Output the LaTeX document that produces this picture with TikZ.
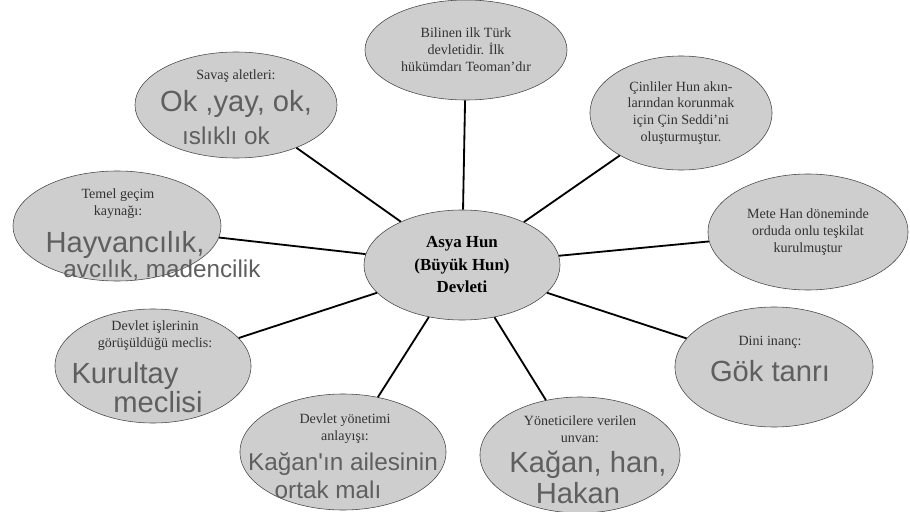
\documentclass[tikz,border=0pt]{standalone}
\usepackage{fontspec}
\setmainfont{Liberation Serif}
\newfontfamily\handfont{Liberation Sans}
\usepackage{xcolor}
\usetikzlibrary{shapes.geometric, positioning}
\definecolor{bubblefill}{RGB}{206, 206, 206}
\definecolor{bubbleline}{RGB}{70, 70, 70}
\definecolor{pencil}{RGB}{95, 95, 95}

\begin{document}
\begin{tikzpicture}[x=0.025cm, y=-0.025cm,
    bubble/.style={ellipse, draw=bubbleline, fill=bubblefill, inner sep=0pt,
                   align=center, font=\normalsize, text=black!80},
    printed/.style={align=center, font=\normalsize, text=black!80, inner sep=1pt},
    hand/.style={align=center, font=\handfont\huge, text=pencil, inner sep=0pt},
    spoke/.style={line width=1.3pt, black}]

    \useasboundingbox (0,0) rectangle (910,512);

    % Bubbles
    \node[bubble, minimum width=4.9cm, minimum height=2.75cm, font=\large\bfseries, text=black]
        (hun) at (462,265) {Asya Hun\\[2pt](Büyük Hun)\\[2pt]Devleti};
    \node[bubble, minimum width=5.05cm, minimum height=2.5cm] (ilk) at (466,50)
        {Bilinen ilk Türk\\devletidir. İlk\\hükümdarı Teoman'dır};
    \node[bubble, minimum width=4.55cm, minimum height=2.85cm] (seddi) at (681,113)
        {Çinliler Hun akın-\\larından korunmak\\için Çin Seddi'ni\\oluşturmuştur.};
    \node[bubble, minimum width=5cm, minimum height=2.9cm] (ordu) at (808,232)
        {Mete Han döneminde\\orduda onlu teşkilat\\kurulmuştur};
    \node[bubble, minimum width=5.05cm, minimum height=2.65cm] (savas) at (236,105) {};
    \node[bubble, minimum width=5.2cm, minimum height=2.75cm] (gecim) at (117,226) {};
    \node[bubble, minimum width=4.9cm, minimum height=2.85cm] (meclis) at (153,366) {};
    \node[bubble, minimum width=4.95cm, minimum height=3cm] (inanc) at (774,367) {};
    \node[bubble, minimum width=5.15cm, minimum height=2.9cm] (yonetim) at (343,452) {};
    \node[bubble, minimum width=5cm, minimum height=2.9cm] (unvan) at (580,455) {};

    % Printed questions
    \node[printed] (savasQ) at (236,76) {Savaş aletleri:};
    \node[printed] (gecimQ) at (118,204) {Temel geçim\\kaynağı:};
    \node[printed] (meclisQ) at (155,336) {Devlet işlerinin\\görüşüldüğü meclis:};
    \node[printed] (inancQ) at (770,342) {Dini inanç:};
    \node[printed] (yonetimQ) at (345,429) {Devlet yönetimi\\anlayışı:};
    \node[printed] (unvanQ) at (580,429) {Yöneticilere verilen\\unvan:};

    % Handwritten answers
    \node[hand] (savasA) at (236,104) {Ok ,yay, ok,};
    \node[hand, font=\handfont\LARGE] (savasB) at (226,136) {ıslıklı ok};
    \node[hand] (gecimA) at (125,245) {Hayvancılık,};
    \node[hand, font=\handfont\LARGE] (gecimB) at (162,270) {avcılık, madencilik};
    \node[hand] (meclisA) at (125,376) {Kurultay};
    \node[hand] (meclisB) at (158,402) {meclisi};
    \node[hand] (inancA) at (770,371) {Gök tanrı};
    \node[hand, font=\handfont\LARGE] (yonetimA) at (343,464) {Kağan'ın ailesinin};
    \node[hand, font=\handfont\LARGE] (yonetimB) at (328,490) {ortak malı};
    \node[hand] (unvanA) at (588,465) {Kağan, han,};
    \node[hand] (unvanB) at (578,493) {Hakan};

    % Spokes
    \draw[spoke] (hun) -- (ilk);
    \draw[spoke] (hun) -- (seddi);
    \draw[spoke] (hun) -- (ordu);
    \draw[spoke] (hun) -- (inanc);
    \draw[spoke] (hun) -- (unvan);
    \draw[spoke] (hun) -- (yonetim);
    \draw[spoke] (hun) -- (meclis);
    \draw[spoke] (hun) -- (gecim);
    \draw[spoke] (hun) -- (savas);
\end{tikzpicture}
\end{document}
